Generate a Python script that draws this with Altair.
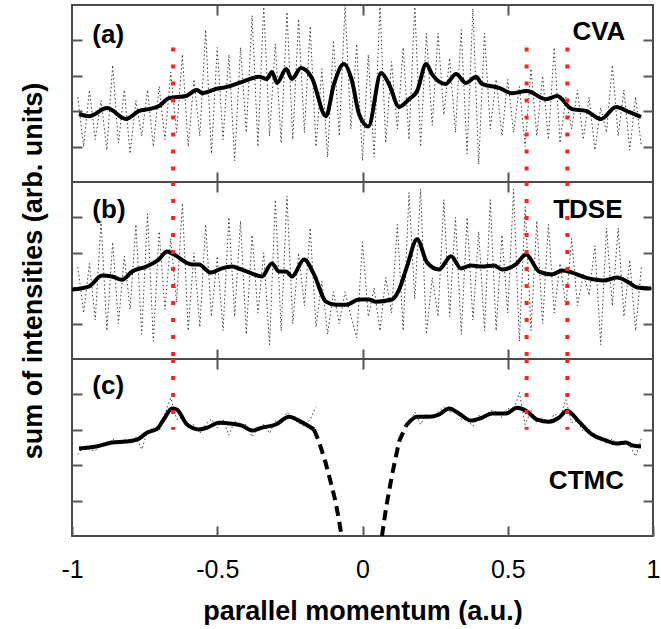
import altair as alt
import pandas as pd

FONT = "Liberation Sans"
W, H = 581, 177

# ---------------- data ----------------
# x positions of the noisy (dotted) samples
grid_ab = [round(-0.98 + 0.02 * i, 2) for i in range(98)]
grid_c_left = [round(-0.98 + 0.02 * i, 2) for i in range(42)]
grid_c_right = [round(0.16 + 0.02 * i, 2) for i in range(41)]

# panel (a) CVA
a_dot = [2.4, 1.0, 2.6, 1.2, 2.3,
         0.9, 3.3, 1.1, 2.6, 0.8, 2.3, 1.3, 2.6, 1.0, 2.7,
         1.2, 3.1, 1.4, 3.6, 1.0, 2.9, 1.3,
         4.3, 0.8, 3.8, 1.2, 3.6, 0.6, 3.8, 1.4,
         4.7, 1.0, 5.0, 1.3, 3.9, 1.1,
         4.8, 1.2, 4.6, 1.4, 4.4, 1.0,
         3.2, 0.7, 4.0, 1.3, 5.0, 1.5, 3.9, 0.6,
         3.6, 0.7, 5.0, 1.1, 3.4, 1.5,
         3.8, 1.2, 5.0, 1.0, 4.2, 1.6,
         4.2, 1.9, 3.5, 1.4, 4.3, 0.8,
         4.9, 0.5, 4.2, 1.5, 2.9, 1.3,
         2.9, 1.4, 2.7, 1.0, 3.2, 1.3,
         3.0, 1.2, 3.8, 1.1, 2.4, 1.5,
         2.6, 1.2, 2.4, 0.9, 2.1, 1.4,
         3.3, 1.3, 2.6, 0.9, 2.4, 1.0]
a_x = [-0.976, -0.941, -0.880, -0.814, -0.769, -0.735, -0.700, -0.666, -0.608, -0.570,
       -0.552, -0.504, -0.470, -0.425, -0.356, -0.329, -0.312, -0.294, -0.263, -0.243,
       -0.212, -0.174, -0.126, -0.098, -0.064, -0.036, -0.012, 0.020, 0.064, 0.091,
       0.126, 0.160, 0.188, 0.219, 0.239, 0.287, 0.322, 0.356, 0.391, 0.411,
       0.470, 0.515, 0.566, 0.632, 0.670, 0.721, 0.769, 0.821, 0.873, 0.917, 0.959]
a_y = [1.92, 1.86, 2.09, 1.78, 2.01, 2.06, 2.15, 2.37, 2.43, 2.60,
       2.51, 2.63, 2.68, 2.80, 2.97, 2.91, 3.11, 2.80, 3.19, 2.91,
       3.22, 2.94, 1.86, 2.77, 3.33, 2.85, 1.92, 1.57, 3.08, 2.77,
       2.12, 2.34, 2.57, 3.33, 3.05, 2.77, 3.05, 2.80, 2.97, 2.77,
       2.66, 2.51, 2.57, 2.34, 2.43, 2.06, 2.01, 1.78, 2.12, 1.98, 1.84]

# panel (b) TDSE
b_dot = [2.6, 1.3, 2.7, 1.1, 3.9,
         0.8, 3.3, 1.0, 2.9, 1.4,
         3.8, 0.7, 4.1, 0.5, 3.6,
         1.4, 3.4, 1.6, 4.4, 0.8,
         3.0, 0.9, 3.8, 1.2, 2.9,
         0.8, 4.0, 1.2, 3.9, 0.7,
         3.5, 1.3, 3.0, 0.4, 4.5,
         0.8, 4.6, 1.0, 3.0, 1.5,
         3.7, 0.9, 2.2, 0.7, 1.9,
         1.0, 1.9, 1.2, 0.6, 3.3,
         1.2, 2.0, 0.8, 2.3, 1.3,
         3.8, 0.8, 4.7, 1.7, 4.8,
         0.7, 2.3, 1.2, 4.5, 1.2,
         4.0, 0.7, 4.0, 1.1, 3.6,
         0.8, 4.5, 0.8, 3.5, 1.3,
         4.8, 0.5, 4.3, 0.8, 3.9,
         1.0, 3.8, 1.3, 2.7, 1.5,
         3.4, 1.5, 2.4, 1.8, 3.2,
         0.4, 3.7, 1.5, 3.7, 1.2,
         2.8, 0.8, 2.6]
b_x = [-1.0, -0.941, -0.897, -0.862, -0.828, -0.793, -0.745, -0.701, -0.673, -0.649,
       -0.587, -0.563, -0.522, -0.484, -0.449, -0.418, -0.380, -0.346, -0.312, -0.287,
       -0.263, -0.243, -0.201, -0.167, -0.126, -0.091, -0.057, -0.012, 0.022, 0.046,
       0.102, 0.126, 0.153, 0.188, 0.222, 0.263, 0.305, 0.339, 0.373, 0.411,
       0.453, 0.480, 0.528, 0.563, 0.608, 0.652, 0.687, 0.721, 0.769, 0.831,
       0.876, 0.917, 0.945, 0.993]
b_y = [1.96, 2.05, 2.36, 2.33, 2.24, 2.47, 2.61, 2.81, 3.04, 2.95,
       2.67, 2.67, 2.44, 2.56, 2.61, 2.53, 2.41, 2.33, 2.70, 2.47,
       2.47, 2.33, 2.81, 2.39, 1.62, 1.53, 1.53, 1.68, 1.68, 1.62,
       1.68, 1.96, 2.61, 3.38, 2.73, 2.53, 2.90, 2.56, 2.64, 2.61,
       2.64, 2.53, 2.67, 2.95, 2.47, 2.39, 2.50, 2.44, 2.30, 2.22,
       2.30, 2.16, 2.02, 1.99]

# panel (c) CTMC
c_dot_left = [2.3, 2.55, 2.45, 2.4, 2.6, 2.55, 2.75, 2.6, 2.75, 2.6,
              2.8, 2.45, 2.95, 3.05, 2.95, 3.45, 3.9, 3.3, 3.35, 3.05,
              3.15, 2.9, 3.15, 3.3, 3.05, 3.3, 2.85, 3.25, 3.1, 3.15,
              2.8, 3.05, 3.15, 2.9, 3.25, 3.2, 3.5, 3.3, 3.2, 3.1,
              3.3, 3.65]
c_dot_right = [3.2, 3.5, 3.15, 3.45, 3.35, 3.5, 3.65, 3.5, 3.55, 3.3,
               3.3, 3.1, 3.4, 3.35, 3.55, 3.5, 3.35, 3.6, 3.55, 4.05,
               3.15, 3.55, 3.2, 3.35, 3.15, 3.45, 3.35, 3.85, 3.2, 3.25,
               2.95, 3.0, 2.75, 2.8, 2.6, 2.75, 2.55, 2.7, 2.55, 2.25,
               2.75]
c_left_x = [-0.976, -0.917, -0.862, -0.814, -0.776, -0.742, -0.707, -0.683, -0.656, -0.639,
            -0.604, -0.563, -0.535, -0.494, -0.449, -0.415, -0.380, -0.346, -0.298, -0.253,
            -0.219, -0.167]
c_left_y = [2.47, 2.53, 2.64, 2.67, 2.72, 2.92, 3.03, 3.31, 3.60, 3.57,
            3.15, 3.01, 3.06, 3.20, 3.17, 3.12, 2.98, 3.06, 3.15, 3.37,
            3.26, 3.01]
c_right_x = [0.150, 0.188, 0.229, 0.263, 0.298, 0.332, 0.373, 0.411, 0.446, 0.494,
             0.532, 0.563, 0.601, 0.642, 0.676, 0.704, 0.745, 0.790, 0.838, 0.873,
             0.907, 0.928, 0.959]
c_right_y = [3.12, 3.37, 3.37, 3.43, 3.60, 3.46, 3.26, 3.34, 3.46, 3.46,
             3.62, 3.54, 3.29, 3.23, 3.34, 3.54, 3.23, 2.87, 2.70, 2.61,
             2.64, 2.56, 2.53]
c_dash_left_x = [-0.167, -0.150, -0.128, -0.112, -0.095, -0.082, -0.072]
c_dash_left_y = [3.01, 2.67, 2.10, 1.60, 1.05, 0.50, 0.0]
c_dash_right_x = [0.067, 0.081, 0.102, 0.126, 0.150]
c_dash_right_y = [0.0, 0.79, 1.74, 2.67, 3.12]

# red dotted markers
red_x = [-0.652, 0.565, 0.705]
red_top = [3.8, 5.0, 5.0]      # per panel a, b, c
red_bottom = [0.0, 0.0, 3.0]

# annotations
panel_tags = ["(a)", "(b)", "(c)"]
tag_x = [-0.93, -0.93, -0.93]
tag_y = [4.15, 4.2, 4.23]
method_names = ["CVA", "TDSE", "CTMC"]
method_x = [0.905, 0.895, 0.9]
method_y = [4.23, 4.22, 1.54]

# ---------------- chart ----------------
xs = alt.Scale(domain=[-1, 1], nice=False, zero=False)
ys = alt.Scale(domain=[0, 5], nice=False, zero=False)
TICK = "#555555"


def inner_axis(orient, values, **kw):
    return alt.Axis(orient=orient, offset=-10, tickSize=10, tickWidth=2, tickColor=TICK,
                    domain=False, grid=False, labels=False, values=values, **kw)


def make_df(xv, yv, seg="s"):
    return pd.DataFrame({"x": xv, "y": yv, "seg": [seg] * len(xv)})


def panel(i, dot_df, solid_df, dash_df=None, bottom_axis=None, left_axis=None):
    if bottom_axis is None:
        bottom_axis = inner_axis("bottom", [-0.5, 0, 0.5], title=None)
    if left_axis is None:
        left_axis = inner_axis("left", [1, 2, 3, 4], title=None)

    dotted = alt.Chart(dot_df).mark_line(
        color="#3a3a3a", strokeWidth=1, strokeDash=[1.5, 2.5], clip=True
    ).encode(
        x=alt.X("x:Q", scale=xs, axis=bottom_axis),
        y=alt.Y("y:Q", scale=ys, axis=left_axis),
        detail="seg:N",
    )
    solid = alt.Chart(solid_df).mark_line(
        color="black", strokeWidth=4, interpolate="monotone", strokeJoin="round", clip=True
    ).encode(
        x=alt.X("x:Q", scale=xs, axis=inner_axis("top", [-0.5, 0, 0.5], title=None)),
        y=alt.Y("y:Q", scale=ys, axis=inner_axis("right", [1, 2, 3, 4], title=None)),
        detail="seg:N",
    )
    layers = [dotted, solid]
    if dash_df is not None:
        layers.append(
            alt.Chart(dash_df).mark_line(
                color="black", strokeWidth=4, strokeDash=[10, 6], clip=True
            ).encode(
                x=alt.X("x:Q", scale=xs, axis=None),
                y=alt.Y("y:Q", scale=ys, axis=None),
                detail="seg:N",
            )
        )
    red_df = pd.DataFrame({"x": red_x, "y1": [red_top[i]] * 3, "y2": [red_bottom[i]] * 3})
    layers.append(
        alt.Chart(red_df).mark_rule(
            color="#ff2222", strokeWidth=4, strokeDash=[4, 13], strokeCap="butt"
        ).encode(
            x=alt.X("x:Q", scale=xs, axis=None),
            y=alt.Y("y1:Q", scale=ys, axis=None),
            y2="y2:Q",
        )
    )
    tag_df = pd.DataFrame({"x": [tag_x[i]], "y": [tag_y[i]], "t": [panel_tags[i]]})
    meth_df = pd.DataFrame({"x": [method_x[i]], "y": [method_y[i]], "t": [method_names[i]]})
    for df, al in ((tag_df, "left"), (meth_df, "right")):
        layers.append(
            alt.Chart(df).mark_text(
                font=FONT, fontSize=26, fontWeight="bold", align=al, baseline="middle",
                color="black"
            ).encode(
                x=alt.X("x:Q", scale=xs, axis=None),
                y=alt.Y("y:Q", scale=ys, axis=None),
                text="t:N",
            )
        )
    return alt.layer(*layers).resolve_axis(x="independent", y="independent").properties(
        width=W, height=H
    )


a_dot_df = make_df(grid_ab, a_dot)
b_dot_df = make_df(grid_ab, b_dot)
c_dot_df = pd.concat([make_df(grid_c_left, c_dot_left, "L"), make_df(grid_c_right, c_dot_right, "R")])

a_solid = make_df(a_x, a_y)
b_solid = make_df(b_x, b_y)
c_solid = pd.concat([make_df(c_left_x, c_left_y, "L"), make_df(c_right_x, c_right_y, "R")])
c_dash = pd.concat([make_df(c_dash_left_x, c_dash_left_y, "L"),
                    make_df(c_dash_right_x, c_dash_right_y, "R")])

ylab_axis = inner_axis(
    "left", [1, 2, 3, 4],
    title="sum of intensities (arb. units)", titleFont=FONT, titleFontSize=27,
    titleFontWeight="bold", titleColor="black", titlePadding=24,
)
xlab_axis = inner_axis(
    "bottom", [-1, -0.5, 0, 0.5, 1],
    title="parallel momentum (a.u.)", titleFont=FONT, titleFontSize=27,
    titleFontWeight="bold", titleColor="black", titlePadding=16,
).to_dict()
xlab_axis.update({"labels": True, "labelExpr": "toString(datum.value)", "labelFont": FONT,
                  "labelFontSize": 25, "labelColor": "black", "labelPadding": 21,
                  "labelFlush": False, "labelOverlap": False})
xlab_axis = alt.Axis(**xlab_axis)

pa = panel(0, a_dot_df, a_solid)
pb = panel(1, b_dot_df, b_solid, left_axis=ylab_axis)
pc = panel(2, c_dot_df, c_solid, dash_df=c_dash, bottom_axis=xlab_axis)

chart = alt.vconcat(pa, pb, pc, spacing=0, bounds="flush").configure_view(
    stroke="#4a4a4a", strokeWidth=2
).properties(
    padding={"left": 17, "top": 3, "right": 0, "bottom": 0},
    background="white",
)

chart.save("out.html", embed_options={"renderer": "svg", "actions": False})
